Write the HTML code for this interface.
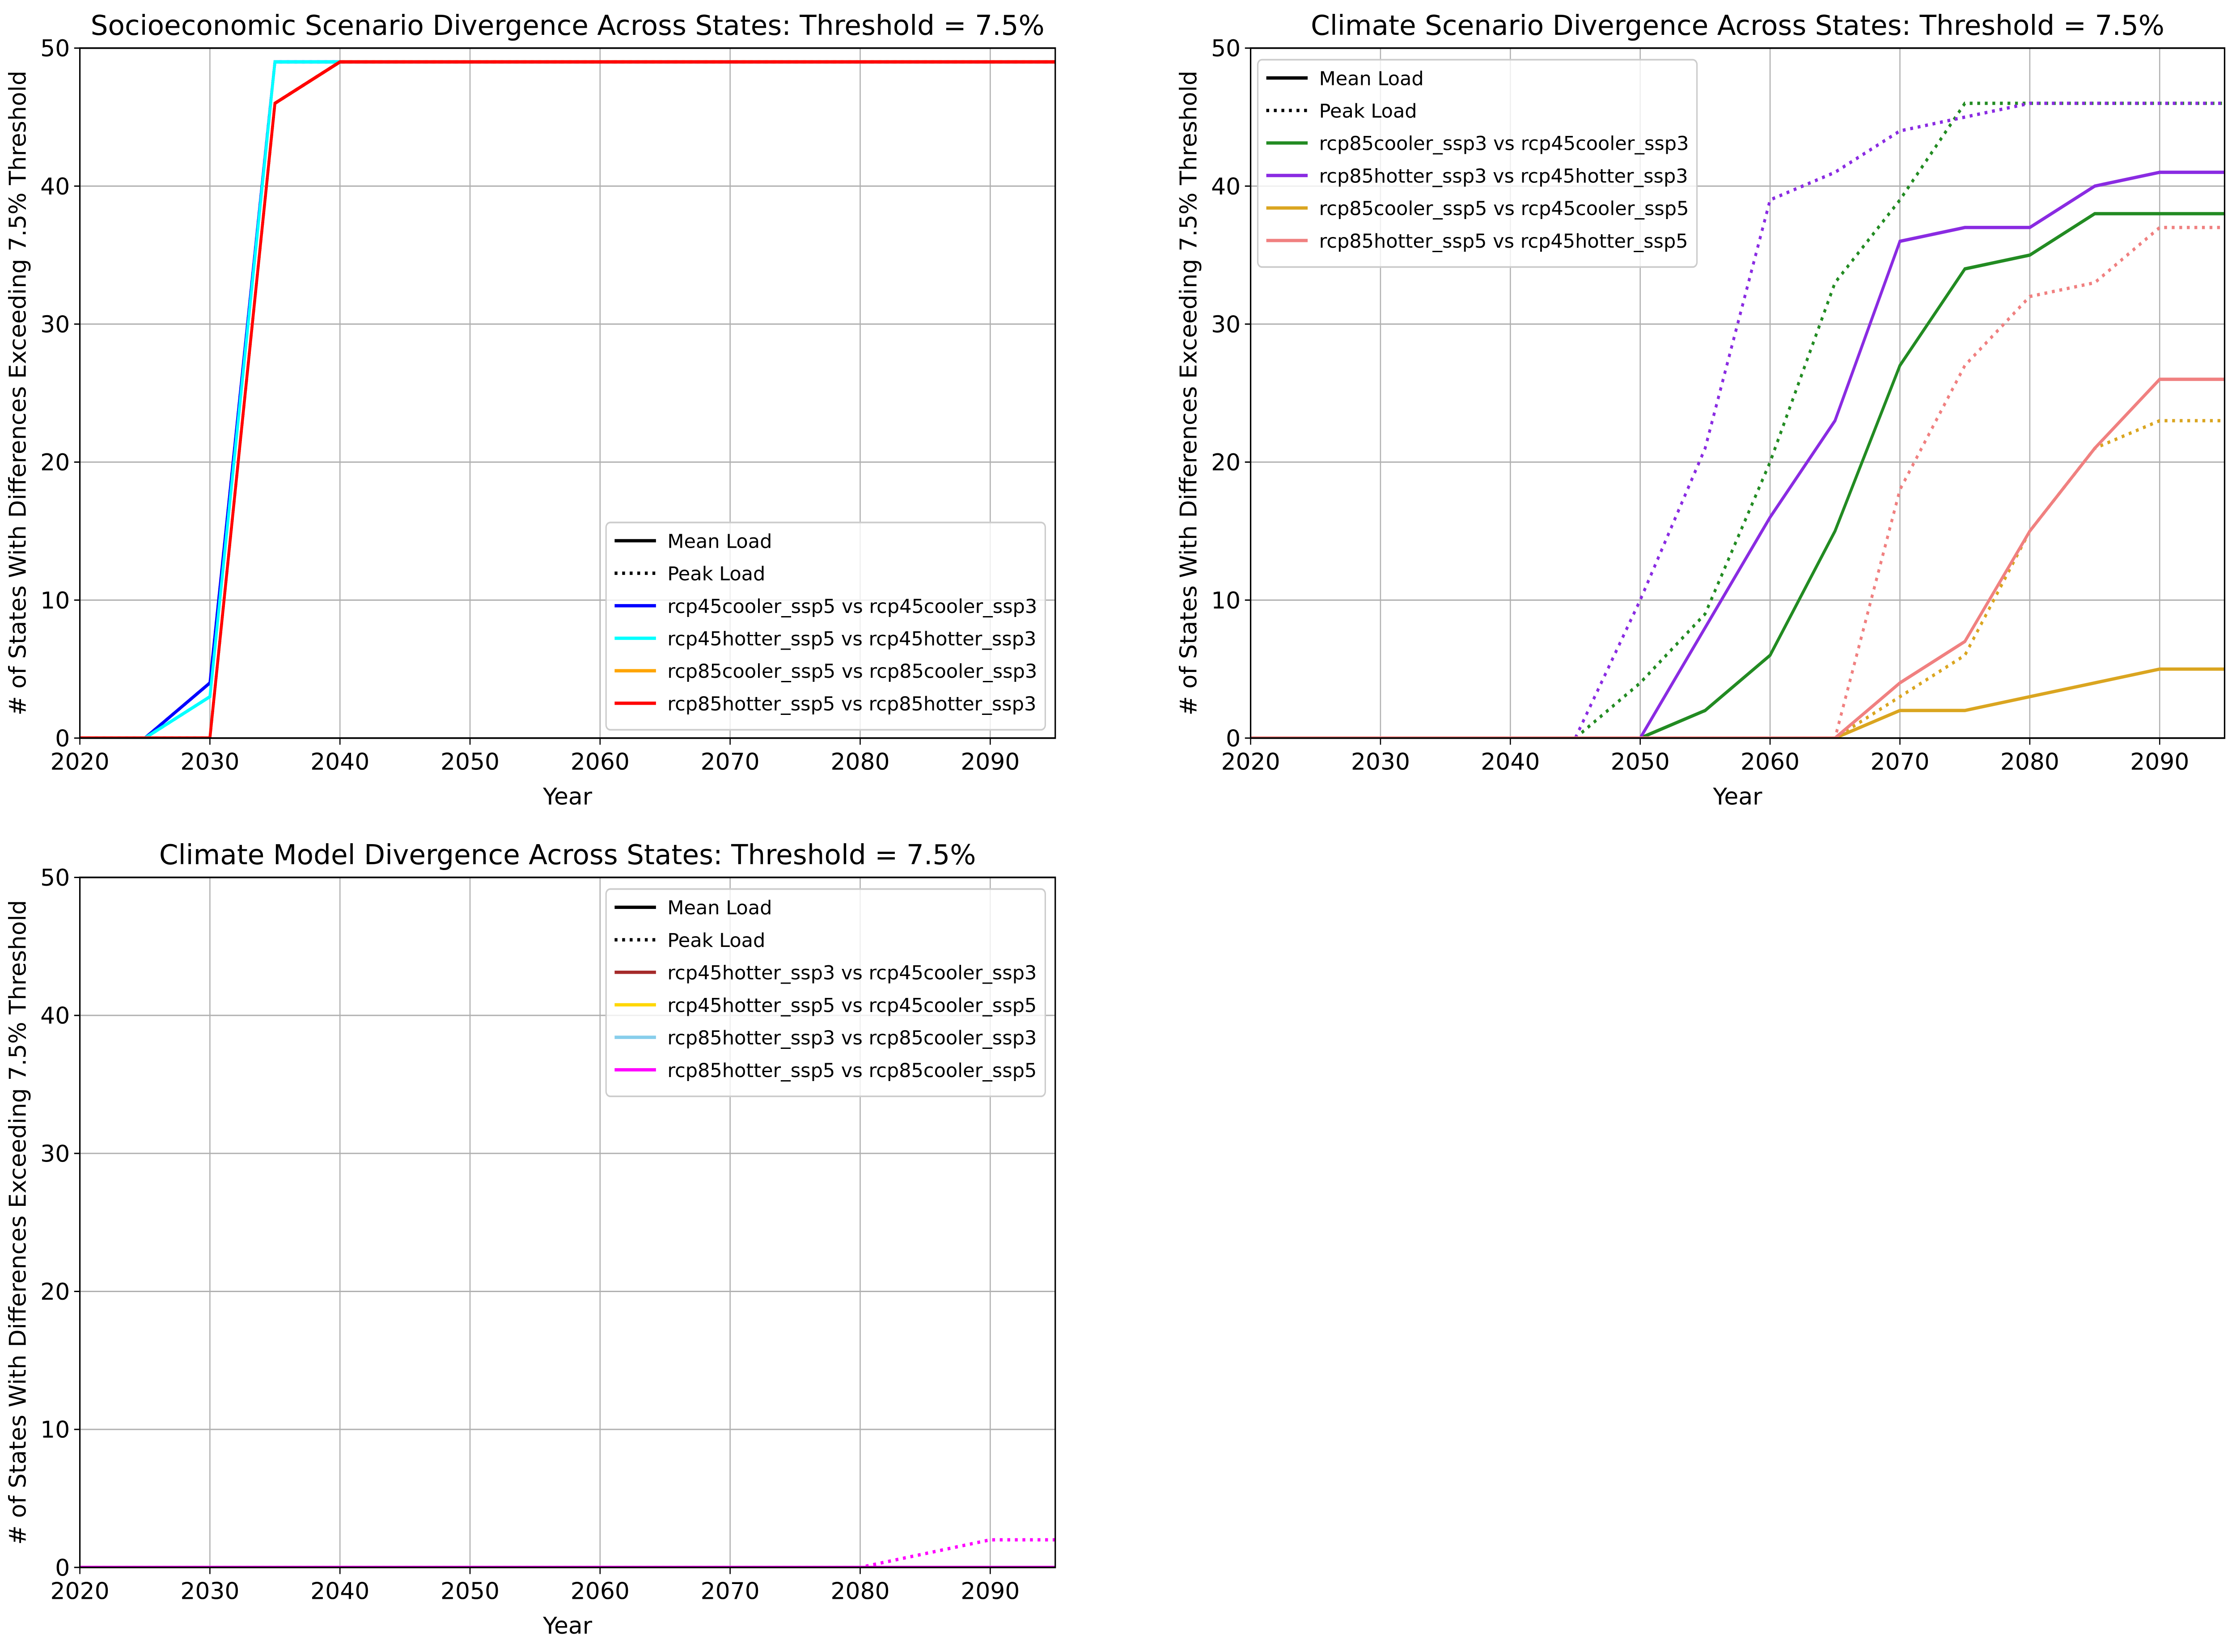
<!DOCTYPE html>
<html><head><meta charset="utf-8">
<style>
html,body{margin:0;padding:0;background:#fff;width:100%;height:100%;overflow:hidden}
svg{display:block;position:absolute;left:0;top:0;width:100vw;height:100vh;font-family:"DejaVu Sans","Liberation Sans",sans-serif}
</style></head><body>
<svg id="fig" viewBox="0 0 1568 996" preserveAspectRatio="none" xmlns="http://www.w3.org/2000/svg"></svg>
<script>
const years=[2020,2025,2030,2035,2040,2045,2050,2055,2060,2065,2070,2075,2080,2085,2090,2095];
const xTicks=[2020,2030,2040,2050,2060,2070,2080,2090];
const yTicks=[0,10,20,30,40,50];
// Panel 1
const p1_blue_mean=[0,0,4,49,49,49,49,49,49,49,49,49,49,49,49,49];
const p1_blue_peak=[0,0,4,49,49,49,49,49,49,49,49,49,49,49,49,49];
const p1_cyan_mean=[0,0,3,49,49,49,49,49,49,49,49,49,49,49,49,49];
const p1_cyan_peak=[0,0,3,49,49,49,49,49,49,49,49,49,49,49,49,49];
const p1_orange_mean=[0,0,0,46,49,49,49,49,49,49,49,49,49,49,49,49];
const p1_orange_peak=[0,0,0,46,49,49,49,49,49,49,49,49,49,49,49,49];
const p1_red_mean=[0,0,0,46,49,49,49,49,49,49,49,49,49,49,49,49];
const p1_red_peak=[0,0,0,46,49,49,49,49,49,49,49,49,49,49,49,49];
// Panel 2
const p2_green_mean=[0,0,0,0,0,0,0,2,6,15,27,34,35,38,38,38];
const p2_green_peak=[0,0,0,0,0,0,4,9,20,33,39,46,46,46,46,46];
const p2_purple_mean=[0,0,0,0,0,0,0,8,16,23,36,37,37,40,41,41];
const p2_purple_peak=[0,0,0,0,0,0,10,21,39,41,44,45,46,46,46,46];
const p2_gold_mean=[0,0,0,0,0,0,0,0,0,0,2,2,3,4,5,5];
const p2_gold_peak=[0,0,0,0,0,0,0,0,0,0,3,6,15,21,23,23];
const p2_coral_mean=[0,0,0,0,0,0,0,0,0,0,4,7,15,21,26,26];
const p2_coral_peak=[0,0,0,0,0,0,0,0,0,0,18,27,32,33,37,37];
// Panel 3
const p3_brown_mean=[0,0,0,0,0,0,0,0,0,0,0,0,0,0,0,0];
const p3_brown_peak=[0,0,0,0,0,0,0,0,0,0,0,0,0,0,0,0];
const p3_yellow_mean=[0,0,0,0,0,0,0,0,0,0,0,0,0,0,0,0];
const p3_yellow_peak=[0,0,0,0,0,0,0,0,0,0,0,0,0,0,0,0];
const p3_sky_mean=[0,0,0,0,0,0,0,0,0,0,0,0,0,0,0,0];
const p3_sky_peak=[0,0,0,0,0,0,0,0,0,0,0,0,0,0,0,0];
const p3_mag_mean=[0,0,0,0,0,0,0,0,0,0,0,0,0,0,0,0];
const p3_mag_peak=[0,0,0,0,0,0,0,0,0,0,0,0,0,1,2,2];

const NS="http://www.w3.org/2000/svg";
const svg=document.getElementById('fig');
const vw=window.innerWidth||5817, vh=window.innerHeight||3695;
const K=(vw/vh)/(1568/996);
function mk(tag,attrs,parent){const e=document.createElementNS(NS,tag);for(const k in attrs)e.setAttribute(k,attrs[k]);(parent||svg).appendChild(e);return e;}
function txt(parent,x,y,size,anchor,str,rot){
  const t=mk('text',{x:x,y:y,'font-size':size,'text-anchor':anchor},parent);
  let tr='translate('+x+' '+y+') scale('+(1/K)+' 1) translate('+(-x)+' '+(-y)+')';
  if(rot)tr+=' rotate('+rot+' '+x+' '+y+')';
  t.setAttribute('transform',tr);
  t.textContent=str;
  return t;
}

function panel(cfg){
  const g=mk('g',{});
  
  
  const L=cfg.x0,R=cfg.x1,T=cfg.y0,B=cfg.y1;
  const sx=v=>L+(v-2020)/(2095-2020)*(R-L);
  const sy=v=>B-(v/50)*(B-T);
  const clip='c'+cfg.name;
  const cp=mk('clipPath',{id:clip},g);mk('rect',{x:L,y:T,width:R-L,height:B-T},cp);
  xTicks.forEach(t=>{const l=mk('line',{x1:sx(t),x2:sx(t),y1:T,y2:B,stroke:'#b0b0b0','stroke-width':0.8},g);});
  yTicks.forEach(t=>{const l=mk('line',{x1:L,x2:R,y1:sy(t),y2:sy(t),stroke:'#b0b0b0','stroke-width':0.8},g);});
  const sg=mk('g',{'clip-path':'url(#'+clip+')'},g);
  cfg.series.forEach(s=>{
    [[s.mean,null],[s.peak,'2,3.3']].forEach(([arr,dash])=>{
      const pts=arr.map((v,i)=>sx(years[i]).toFixed(2)+','+sy(v).toFixed(2)).join(' ');
      const a={points:pts,fill:'none',stroke:s.color,'stroke-width':2};
      if(dash)a['stroke-dasharray']=dash;
      const p=mk('polyline',a,sg);
      
      
    });
  });
  const fr=mk('rect',{x:L,y:T,width:R-L,height:B-T,fill:'none',stroke:'#000','stroke-width':1},g);
  
  xTicks.forEach(t=>{mk('line',{x1:sx(t),x2:sx(t),y1:B,y2:B+4,stroke:'#000','stroke-width':0.8},g);
    const tx=txt(g,sx(t),B+19,14,'middle',t);
    });
  yTicks.forEach(t=>{mk('line',{x1:L-4,x2:L,y1:sy(t),y2:sy(t),stroke:'#000','stroke-width':0.8},g);
    const tx=txt(g,L-7,sy(t)+5,14,'end',t);
    });
  const xl=txt(g,(L+R)/2,B+40,14,'middle','Year');
  
  const cy=(T+B)/2;
  const yl=txt(g,L-38,cy,14,'middle','# of States With Differences Exceeding 7.5% Threshold',-90);
  
  const ti=txt(g,(L+R)/2,T-8,16.5,'middle',cfg.title);
  
  const lg=mk('g',{},g);
  const lx=cfg.lx,ly=cfg.ly;
  mk('rect',{x:lx,y:ly,width:308,height:125,rx:3,fill:'#fff','fill-opacity':0.8,stroke:'#ccc','stroke-width':1},lg);
  const ents=[['Mean Load','#000',null],['Peak Load','#000','2,3.3']].concat(cfg.series.map(s=>[s.label,s.color,null]));
  ents.forEach((e,i)=>{
    const y=ly+11+i*19.6;
    const ln={x1:lx+6,x2:lx+35,y1:y,y2:y,stroke:e[1],'stroke-width':2};if(e[2])ln['stroke-dasharray']=e[2];
    mk('line',ln,lg);
    const t=txt(lg,lx+43,y+4.3,11.6,'start',e[0]);
    
  });
}
panel({name:'socioeconomic-panel',x0:56,x1:740,y0:29,y1:445,lx:425,ly:315,
  title:'Socioeconomic Scenario Divergence Across States: Threshold = 7.5%',
  series:[{id:'rcp45cooler',label:'rcp45cooler_ssp5 vs rcp45cooler_ssp3',color:'#0000ff',mean:p1_blue_mean,peak:p1_blue_peak},
  {id:'rcp45hotter',label:'rcp45hotter_ssp5 vs rcp45hotter_ssp3',color:'#00ffff',mean:p1_cyan_mean,peak:p1_cyan_peak},
  {id:'rcp85cooler',label:'rcp85cooler_ssp5 vs rcp85cooler_ssp3',color:'#ffa500',mean:p1_orange_mean,peak:p1_orange_peak},
  {id:'rcp85hotter',label:'rcp85hotter_ssp5 vs rcp85hotter_ssp3',color:'#ff0000',mean:p1_red_mean,peak:p1_red_peak}]});
panel({name:'climate-scenario-panel',x0:877,x1:1560,y0:29,y1:445,lx:882,ly:36,
  title:'Climate Scenario Divergence Across States: Threshold = 7.5%',
  series:[{id:'ssp3-cooler',label:'rcp85cooler_ssp3 vs rcp45cooler_ssp3',color:'#228b22',mean:p2_green_mean,peak:p2_green_peak},
  {id:'ssp3-hotter',label:'rcp85hotter_ssp3 vs rcp45hotter_ssp3',color:'#8a2be2',mean:p2_purple_mean,peak:p2_purple_peak},
  {id:'ssp5-cooler',label:'rcp85cooler_ssp5 vs rcp45cooler_ssp5',color:'#daa520',mean:p2_gold_mean,peak:p2_gold_peak},
  {id:'ssp5-hotter',label:'rcp85hotter_ssp5 vs rcp45hotter_ssp5',color:'#f08080',mean:p2_coral_mean,peak:p2_coral_peak}]});
panel({name:'climate-model-panel',x0:56,x1:740,y0:529,y1:945,lx:425,ly:536,
  title:'Climate Model Divergence Across States: Threshold = 7.5%',
  series:[{id:'rcp45-ssp3',label:'rcp45hotter_ssp3 vs rcp45cooler_ssp3',color:'#a52a2a',mean:p3_brown_mean,peak:p3_brown_peak},
  {id:'rcp45-ssp5',label:'rcp45hotter_ssp5 vs rcp45cooler_ssp5',color:'#ffd700',mean:p3_yellow_mean,peak:p3_yellow_peak},
  {id:'rcp85-ssp3',label:'rcp85hotter_ssp3 vs rcp85cooler_ssp3',color:'#87ceeb',mean:p3_sky_mean,peak:p3_sky_peak},
  {id:'rcp85-ssp5',label:'rcp85hotter_ssp5 vs rcp85cooler_ssp5',color:'#ff00ff',mean:p3_mag_mean,peak:p3_mag_peak}]});
</script>
</body></html>
